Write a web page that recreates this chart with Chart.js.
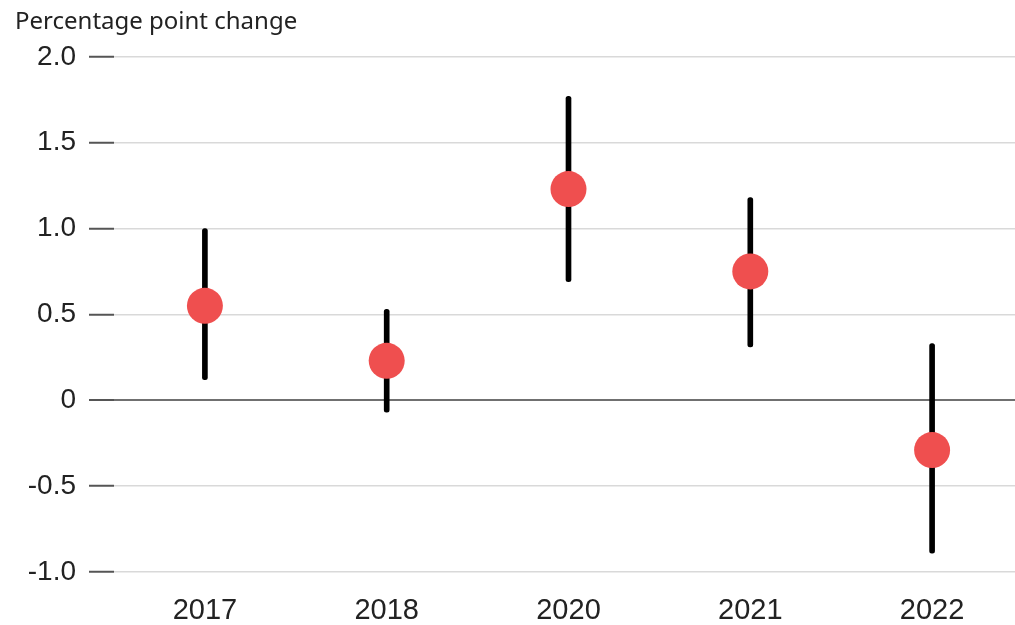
<!DOCTYPE html>
<html>
<head>
<meta charset="utf-8">
<script src="https://cdn.jsdelivr.net/npm/chart.js@4"></script>
<style>
  html, body { margin: 0; padding: 0; background: #fff; overflow: hidden; }
  canvas { display: block; }
</style>
</head>
<body>
<canvas id="chart" width="1041" height="625"></canvas>
<script>
// years on the x axis
const years = ['2017', '2018', '2020', '2021', '2022'];
// point estimates (red dots)
const estimates = [0.55, 0.23, 1.23, 0.75, -0.29];
// whisker ends
const lowBounds = [0.12, -0.07, 0.69, 0.31, -0.89];
const highBounds = [1.0, 0.53, 1.77, 1.18, 0.33];
// y axis ticks
const yTicks = [-1.0, -0.5, 0, 0.5, 1.0, 1.5, 2.0];

const ranges = years.map((y, i) => [lowBounds[i], highBounds[i]]);

new Chart(document.getElementById('chart'), {
  type: 'bar',
  data: {
    labels: years,
    datasets: [
      {
        type: 'line',
        data: estimates,
        showLine: false,
        pointRadius: 18,
        pointHoverRadius: 18,
        pointBackgroundColor: '#ef4f4f',
        pointBorderWidth: 0,
        order: 0
      },
      {
        data: ranges,
        backgroundColor: '#000',
        barThickness: 5,
        borderRadius: 3,
        borderSkipped: false,
        order: 1
      }
    ]
  },
  options: {
    responsive: false,
    animation: false,
    layout: { padding: { left: 15, right: 0, top: 8, bottom: 0 } },
    plugins: {
      legend: { display: false },
      tooltip: { enabled: false },
      title: {
        display: true,
        text: 'Percentage point change',
        align: 'start',
        color: '#222',
        font: { family: '"Noto Sans", sans-serif', size: 24, weight: 'normal' },
        padding: { top: 0, bottom: 20 }
      }
    },
    scales: {
      x: {
        grid: { display: false, drawTicks: false },
        border: { display: false },
        afterFit: (axis) => { axis.height = 53; },
        ticks: {
          color: '#222',
          padding: 22,
          font: { family: '"Liberation Sans", Arial, sans-serif', size: 29 }
        }
      },
      y: {
        min: -1,
        max: 2,
        afterBuildTicks: (axis) => { axis.ticks = yTicks.map(v => ({ value: v })); },
        afterFit: (axis) => { axis.width = 99; },
        border: { display: false },
        grid: {
          color: (c) => c.tick && c.tick.value === 0 ? '#707070' : '#d9d9d9',
          lineWidth: (c) => c.tick && c.tick.value === 0 ? 2 : 1.5,
          tickColor: '#555',
          tickWidth: 2,
          tickLength: 25
        },
        ticks: {
          color: '#222',
          padding: 13,
          font: { family: '"Liberation Sans", Arial, sans-serif', size: 28 },
          callback: (v) => v === 0 ? '0' : Number(v).toFixed(1)
        }
      }
    }
  }
});
</script>
</body>
</html>
